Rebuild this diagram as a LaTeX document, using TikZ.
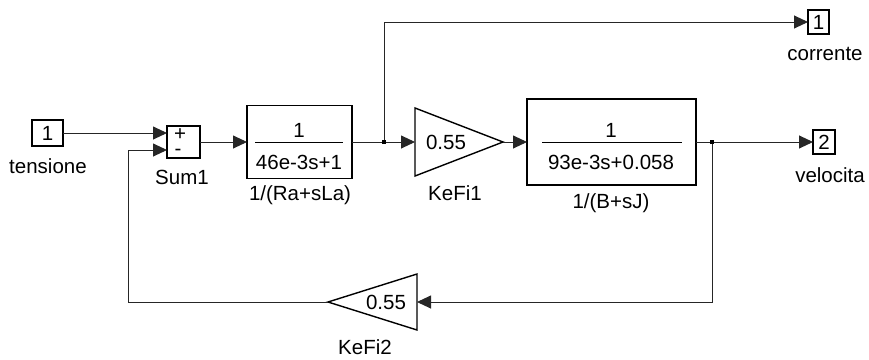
\documentclass[tikz,border=0pt]{standalone}
\usepackage{fontspec}
\setmainfont{Liberation Sans}
\usetikzlibrary{positioning,arrows.meta,calc}

\begin{document}
\begin{tikzpicture}[
  x=1pt, y=-1pt,
  font=\fontsize{20.5}{22}\selectfont,
  port/.style={draw=black, line width=1.1pt, inner sep=0pt, outer sep=0pt},
  block/.style={draw=black, line width=1.3pt, inner sep=0pt, outer sep=0pt},
  gain/.style={draw=black, line width=1.4pt, line join=miter},
  frac/.style={draw=black, line width=0.9pt},
  wire/.style={draw=black!85, line width=0.9pt},
  arr/.style={wire, -{Triangle[length=14pt,width=13pt]}},
  dot/.style={fill=black, rectangle, minimum size=3.5pt, inner sep=0pt},
  lbl/.style={inner sep=0pt}
]
\useasboundingbox (0,0) rectangle (869,359);
% ---------------- Input and sum ----------------
\node[port, minimum width=31pt, minimum height=26pt] (in1) at (47.5,133) {1};
\node[lbl] (in1lbl) at (48,166) {tensione};
\node[block, minimum width=33pt, minimum height=32pt, align=center,
      font=\fontsize{20.5}{15}\selectfont] (sum) at (183.5,142)
  {+\hspace*{7pt}\\-\hspace*{11pt}};
\node[lbl] (sumlbl) at (182,177) {Sum1};
\coordinate (s1) at (167,133);
\coordinate (s2) at (167,150);
% ---------------- Armature ----------------
\node[block, minimum width=105pt, minimum height=73pt] (tf1) at (299.5,142) {};
\node[lbl] (tf1num) at (299,130) {1};
\node[lbl] (tf1den) at (299,162) {46e-3s+1};
\draw[frac] ([xshift=8pt]tf1.west) -- ([xshift=-9pt]tf1.east);
\node[lbl] (tf1lbl) at (300,195) {1/(Ra+sLa)};
\node[dot] (br1) at (384,142) {};
% ---------------- Torque gain ----------------
\coordinate (g1in) at (415,142);
\coordinate (g1out) at (503,142);
\draw[gain] (415,108) -- (g1out) -- (415,176) -- cycle;
\node[lbl] (g1val) at (446,142) {0.55};
\node[lbl] (g1lbl) at (455,193) {KeFi1};
% ---------------- Mechanics ----------------
\node[block, minimum width=169pt, minimum height=86pt] (tf2) at (611.5,142) {};
\node[lbl] (tf2num) at (611,130) {1};
\node[lbl] (tf2den) at (611,162) {93e-3s+0.058};
\draw[frac] ([xshift=15pt]tf2.west) -- ([xshift=-14pt]tf2.east);
\node[lbl] (tf2lbl) at (611,203) {1/(B+sJ)};
\node[dot] (br2) at (712,142) {};
% ---------------- Outputs ----------------
\node[port, minimum width=21pt, minimum height=24pt] (out1) at (818.5,22) {1};
\node[lbl] (out1lbl) at (825,54) {corrente};
\node[port, minimum width=22pt, minimum height=24pt] (out2) at (824,142) {2};
\node[lbl] (out2lbl) at (830,175) {velocita};
% ---------------- Back emf gain ----------------
\coordinate (g2in) at (417,302);
\coordinate (g2out) at (328,302);
\draw[gain] (417,274) -- (g2out) -- (417,330) -- cycle;
\node[lbl] (g2val) at (386,302) {0.55};
\node[lbl] (g2lbl) at (365,347) {KeFi2};
\coordinate (fb) at (128,302);
% ---------------- Wires ----------------
\draw[arr] (in1.east) -- (s1);
\draw[arr] (sum.east) -- (tf1.west);
\draw[wire] (tf1.east) -- (br1);
\draw[arr] (br1) -- (g1in);
\draw[arr] (br1) |- (out1.west);
\draw[arr] (g1out) -- (tf2.west);
\draw[wire] (tf2.east) -- (br2);
\draw[arr] (br2) -- (out2.west);
\draw[arr] (br2) |- (g2in);
\draw[arr] (g2out) -- (fb) |- (s2);
\end{tikzpicture}
\end{document}
